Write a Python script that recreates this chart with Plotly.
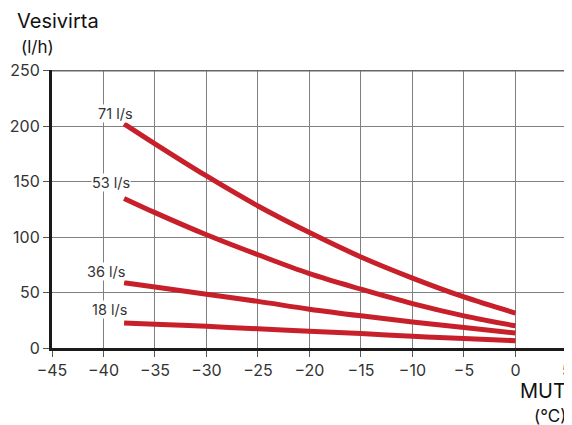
import plotly.graph_objects as go

# Data
mut = [-38, -35, -30, -25, -20, -15, -10, -5, 0]
flow_71 = [202, 184, 155, 128, 104, 82, 63, 46, 31.5]
flow_53 = [134.8, 122, 102, 84, 67, 53, 40, 29, 20]
flow_36 = [58.8, 55, 48.5, 42, 35, 29, 23.5, 18.5, 13.5]
flow_18 = [22.5, 21.5, 19.5, 17.3, 15, 13, 10.5, 8.5, 6.6]
series_names = ["71 l/s", "53 l/s", "36 l/s", "18 l/s"]
series_values = [flow_71, flow_53, flow_36, flow_18]
label_x = [-38.8, -39.3, -39.8, -39.4]
label_y = [211.5, 149.2, 69, 34.5]

x_ticks = [-45, -40, -35, -30, -25, -20, -15, -10, -5, 0, 5]
y_ticks = [0, 50, 100, 150, 200, 250]

RED = "#C8202A"
FONT = "Inter"
TXT = "#333333"
X0, X1 = -45, 5.2
fig = go.Figure()
for name, vals in zip(series_names, series_values):
    fig.add_trace(go.Scatter(x=mut, y=vals, mode="lines", name=name,
                             line=dict(color=RED, width=5, shape="spline", smoothing=1.0),
                             hoverinfo="skip"))

for name, lx, ly in zip(series_names, label_x, label_y):
    fig.add_annotation(x=lx, y=ly, text=name, showarrow=False, xref="x", yref="y",
                       font=dict(family=FONT, size=14.5, color=TXT),
                       bgcolor="white", borderpad=0)

fig.update_xaxes(range=[X0, X1], tickvals=x_ticks, showgrid=True, gridcolor="#808080",
                 gridwidth=1, showline=True, linecolor="#1a1a1a", linewidth=3,
                 ticks="outside", ticklen=6, tickcolor="#555555", zeroline=False,
                 ticklabeloverflow="allow",
                 tickfont=dict(family=FONT, size=16, color=TXT))
fig.update_yaxes(range=[0, 250.5], tickvals=y_ticks, showgrid=True, gridcolor="#808080",
                 gridwidth=1, showline=True, linecolor="#1a1a1a", linewidth=3,
                 ticks="outside", ticklen=6, tickcolor="#555555", zeroline=False,
                 tickfont=dict(family=FONT, size=16, color=TXT))

# The page body adds an 8px offset; compensate so the picture matches the 572x425 reference.
OFF = 8
W, H = 572, 425
px_per_unit = 10.31
pl = 51.7 - OFF
pr = pl + (X1 - X0) * px_per_unit
pt, pb = 70.3 - OFF, 348.3 - OFF
fig.update_layout(width=W, height=H,
                  margin=dict(l=pl, r=W - pr, t=pt, b=H - pb, autoexpand=False),
                  plot_bgcolor="white", paper_bgcolor="white", showlegend=False)

# darker top border line at the 250 level
fig.add_shape(type="line", xref="x", yref="y", x0=X0, x1=5, y0=250, y1=250,
              line=dict(color="#666666", width=2))


def note(text, px, py, size, xanchor):
    px -= OFF
    py -= OFF
    fig.add_annotation(x=(px - pl) / (pr - pl), y=(pb - py) / (pb - pt),
                       xref="paper", yref="paper", text=text, showarrow=False,
                       xanchor=xanchor, yanchor="middle",
                       font=dict(family=FONT, size=size, color="#111111"))


note("Vesivirta", 15, 21.5, 20, "left")
note("(l/h)", 19, 47.5, 17, "left")
note("MUT", 568, 391, 20, "right")
note("(°C)", 568, 416, 17, "right")

fig.write_html("out.html")
